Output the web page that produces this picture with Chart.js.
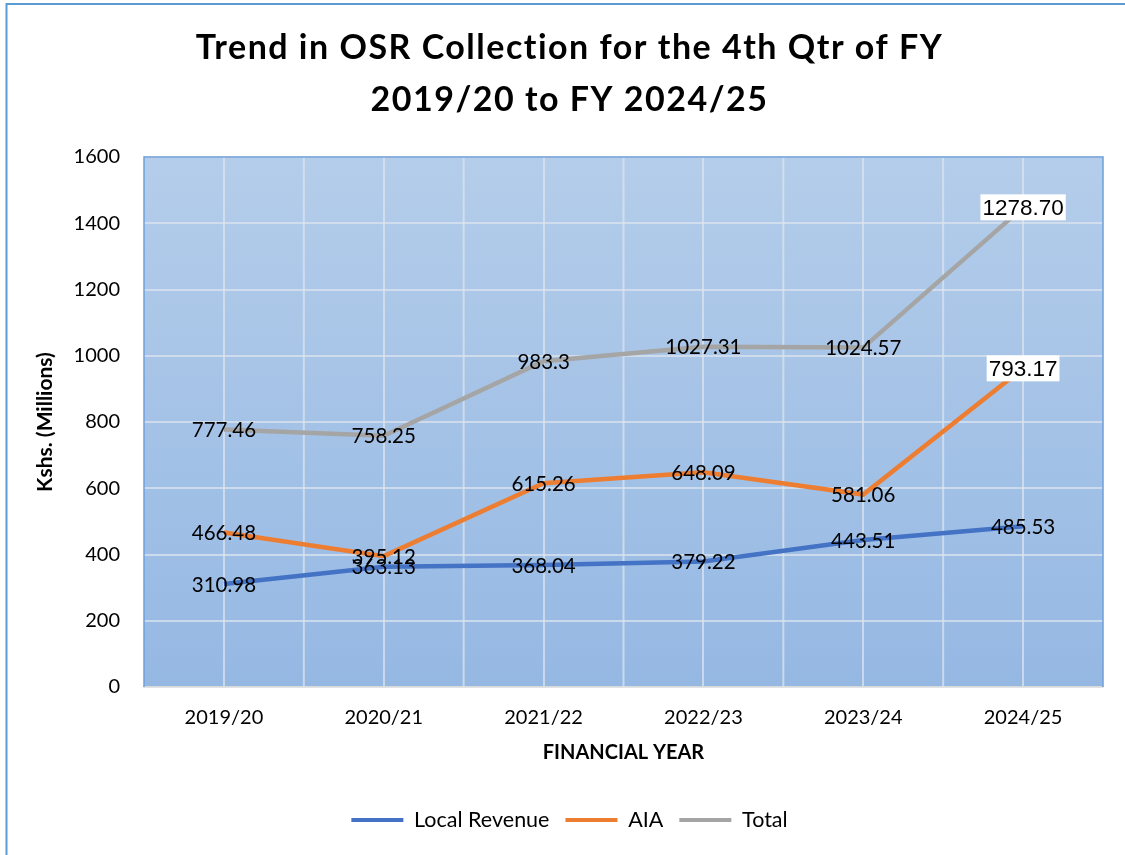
<!DOCTYPE html>
<html>
<head>
<meta charset="utf-8">
<script src="https://cdn.jsdelivr.net/npm/chart.js@4.4.1/dist/chart.umd.min.js"></script>
<style>
  html, body { margin: 0; padding: 0; background: #ffffff; }
  #wrap { position: relative; width: 1125px; height: 855px; }
  canvas { display: block; }
</style>
</head>
<body>
<div id="wrap"><canvas id="c" width="1125" height="855"></canvas></div>
<script>
// ---- Data ----
const categories = ['2019/20', '2020/21', '2021/22', '2022/23', '2023/24', '2024/25'];
const localRevenue = [310.98, 363.13, 368.04, 379.22, 443.51, 485.53];
const aia = [466.48, 395.12, 615.26, 648.09, 581.06, 962];
const total = [777.46, 758.25, 983.3, 1027.31, 1024.57, 1448];
const localRevenueLabels = ['310.98', '363.13', '368.04', '379.22', '443.51', '485.53'];
const aiaLabels = ['466.48', '395.12', '615.26', '648.09', '581.06', '793.17'];
const totalLabels = ['777.46', '758.25', '983.3', '1027.31', '1024.57', '1278.70'];
const yTicks = [0, 200, 400, 600, 800, 1000, 1200, 1400, 1600];

const seriesNames = ['Local Revenue', 'AIA', 'Total'];
const seriesColors = ['#4472C4', '#ED7D31', '#A5A5A5'];
const boxedLabels = { 1: [5], 2: [5] }; // dataset index -> point indices shown on white boxes

const FONT = "Lato, 'Open Sans', 'DejaVu Sans', sans-serif";
const GRID = 'rgba(222,228,238,0.72)';

const plotBgPlugin = {
  id: 'plotBg',
  afterLayout(chart) {
    const tb = chart.titleBlock;
    if (tb && !tb._spaced) {
      const orig = tb.draw.bind(tb);
      tb.draw = function () {
        const ctx = chart.ctx;
        ctx.save();
        ctx.letterSpacing = '1.5px';
        orig();
        ctx.restore();
      };
      tb._spaced = true;
    }
  },
  beforeDraw(chart) {
    const { ctx, chartArea: a } = chart;
    ctx.save();
    ctx.fillStyle = '#ffffff';
    ctx.fillRect(0, 0, chart.width, chart.height);
    const g = ctx.createLinearGradient(0, a.top, 0, a.bottom);
    g.addColorStop(0, '#B4CDEA');
    g.addColorStop(1, '#95B8E3');
    ctx.fillStyle = g;
    ctx.fillRect(a.left, a.top, a.right - a.left, a.bottom - a.top);
    ctx.restore();
  },
  beforeDatasetsDraw(chart) {
    // vertical gridlines at category boundaries
    const { ctx, chartArea: a } = chart;
    const xs = chart.scales.x;
    const n = xs.getLabels().length;
    ctx.save();
    ctx.strokeStyle = GRID;
    ctx.lineWidth = 2;
    for (let i = 1; i < n; i++) {
      const x = (xs.getPixelForValue(i - 1) + xs.getPixelForValue(i)) / 2;
      ctx.beginPath();
      ctx.moveTo(x, a.top);
      ctx.lineTo(x, a.bottom);
      ctx.stroke();
    }
    // plot area border (top, left, right)
    ctx.strokeStyle = '#6FA0DA';
    ctx.lineWidth = 1.5;
    ctx.beginPath();
    ctx.moveTo(a.left, a.bottom);
    ctx.lineTo(a.left, a.top);
    ctx.lineTo(a.right, a.top);
    ctx.lineTo(a.right, a.bottom);
    ctx.stroke();
    ctx.restore();
  },
  afterDatasetsDraw(chart) {
    const { ctx } = chart;
    const labelSets = [localRevenueLabels, aiaLabels, totalLabels];
    ctx.save();
    ctx.textAlign = 'center';
    ctx.textBaseline = 'middle';
    chart.data.datasets.forEach((ds, di) => {
      const meta = chart.getDatasetMeta(di);
      meta.data.forEach((pt, pi) => {
        const txt = labelSets[di][pi];
        const boxed = (boxedLabels[di] || []).includes(pi);
        if (boxed) {
          ctx.font = "22.5px 'Liberation Sans', Arial, sans-serif";
          const w = ctx.measureText(txt).width;
          ctx.fillStyle = '#ffffff';
          ctx.fillRect(pt.x - w / 2 - 2, pt.y - 13, w + 4, 26);
        } else {
          ctx.font = '20.5px ' + FONT;
        }
        ctx.fillStyle = '#000000';
        ctx.fillText(txt, pt.x, pt.y + 1);
      });
    });
    ctx.restore();
  },
  afterDraw(chart) {
    const { ctx } = chart;
    ctx.save();
    ctx.strokeStyle = '#5B9BD5';
    ctx.lineWidth = 2;
    ctx.strokeRect(6.5, 4, 1400, 1200);
    ctx.restore();
  }
};

const seriesData = [localRevenue, aia, total];

new Chart(document.getElementById('c'), {
  type: 'line',
  data: {
    labels: categories,
    datasets: seriesNames.map((name, i) => ({
      label: name,
      data: seriesData[i],
      borderColor: seriesColors[i],
      backgroundColor: seriesColors[i],
      borderWidth: 4.5,
      pointRadius: 0,
      pointHoverRadius: 0,
      tension: 0,
      fill: false
    }))
  },
  options: {
    responsive: false,
    animation: false,
    events: [],
    layout: { padding: { left: 36, right: 22, top: 0, bottom: 14.25 } },
    plugins: {
      title: {
        display: true,
        text: ['Trend in OSR Collection for the 4th Qtr of FY', '2019/20 to FY 2024/25'],
        color: '#000000',
        font: { family: FONT, size: 34, weight: 'bold', lineHeight: 52 / 34 },
        padding: { top: 22, bottom: 31 }
      },
      legend: {
        display: true,
        position: 'bottom',
        labels: {
          color: '#000000',
          font: { family: FONT, size: 21.5 },
          boxWidth: 52,
          boxHeight: 4,
          padding: 16,
          generateLabels(chart) {
            const items = Chart.defaults.plugins.legend.labels.generateLabels(chart);
            items.forEach(it => { it.lineWidth = 0; });
            return items;
          }
        }
      },
      tooltip: { enabled: false }
    },
    scales: {
      x: {
        type: 'category',
        offset: true,
        grid: { display: true, color: GRID, lineWidth: 2, drawTicks: false, offset: false },
        border: { display: true, color: '#D9D9D9', width: 1.5 },
        ticks: { color: '#000000', font: { family: FONT, size: 20 }, padding: 19, maxRotation: 0, autoSkip: false },
        title: {
          display: true,
          text: 'FINANCIAL YEAR',
          color: '#000000',
          font: { family: FONT, size: 20, weight: 'bold' },
          padding: { top: 0, bottom: 28.25 }
        },
        afterFit(s) { s.height = 106.25; }
      },
      y: {
        min: 0,
        max: 1600,
        afterBuildTicks(s) { s.ticks = yTicks.map(v => ({ value: v })); },
        grid: { color: GRID, lineWidth: 2, drawTicks: false },
        border: { display: false },
        ticks: {
          color: '#000000',
          font: { family: FONT, size: 20 },
          padding: 24,
          callback(v) { return String(v); }
        },
        title: {
          display: true,
          text: 'Kshs. (Millions)',
          color: '#000000',
          font: { family: FONT, size: 21, weight: 'bold' },
          padding: { top: -3.6, bottom: 0 }
        },
        afterFit(s) { s.width = 108; }
      }
    }
  },
  plugins: [plotBgPlugin]
});
</script>
</body>
</html>
